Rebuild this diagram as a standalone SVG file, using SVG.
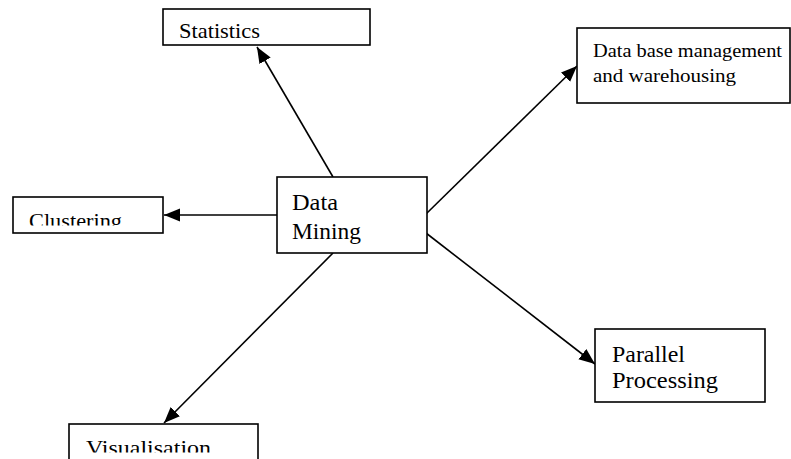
<svg xmlns="http://www.w3.org/2000/svg" width="791" height="459" viewBox="0 0 791 459">
<style>
.box{fill:#fff;stroke:#000;stroke-width:1.6}
.t{font-family:"Liberation Serif","Times New Roman",serif;fill:#000}
.c{stroke:#000;stroke-width:1.6;fill:none;marker-end:url(#ah)}
</style>
<defs>
<marker id="ah" markerUnits="userSpaceOnUse" markerWidth="18" markerHeight="14" refX="16" refY="6.5" orient="auto">
<path d="M0,0 L16,6.5 L0,13 Z" fill="#000"/>
</marker>
<clipPath id="cpS"><rect x="163" y="9" width="207" height="30.5"/></clipPath>
<clipPath id="cpC"><rect x="13" y="197" width="150" height="28.5"/></clipPath>
<clipPath id="cpV"><rect x="69" y="424" width="189" height="28.5"/></clipPath>
</defs>
<rect width="791" height="459" fill="#fff"/>
<g id="connectors">
<line class="c" x1="333" y1="177" x2="257" y2="47"/>
<line class="c" x1="277" y1="215" x2="164" y2="215"/>
<line class="c" x1="426" y1="214" x2="577" y2="66"/>
<line class="c" x1="426" y1="233" x2="595" y2="364"/>
<line class="c" x1="333" y1="253" x2="164" y2="423"/>
</g>
<g id="statistics">
<rect class="box" x="163" y="9" width="207" height="36"/>
<text class="t" x="179" y="38" font-size="22" textLength="81" lengthAdjust="spacingAndGlyphs" clip-path="url(#cpS)">Statistics</text>
</g>
<g id="clustering">
<rect class="box" x="13" y="197" width="150" height="36"/>
<text class="t" x="29" y="227.5" font-size="22" textLength="93" lengthAdjust="spacingAndGlyphs" clip-path="url(#cpC)">Clustering</text>
</g>
<g id="data-mining">
<rect class="box" x="277" y="177" width="150" height="76"/>
<text class="t" x="292" y="210" font-size="23" textLength="46" lengthAdjust="spacingAndGlyphs">Data</text>
<text class="t" x="292" y="239" font-size="23" textLength="69" lengthAdjust="spacingAndGlyphs">Mining</text>
</g>
<g id="database">
<rect class="box" x="577" y="28" width="213" height="75"/>
<text class="t" x="593" y="57" font-size="19" textLength="189" lengthAdjust="spacingAndGlyphs">Data base management</text>
<text class="t" x="593" y="82" font-size="19" textLength="143" lengthAdjust="spacingAndGlyphs">and warehousing</text>
</g>
<g id="parallel">
<rect class="box" x="595" y="329" width="170" height="73"/>
<text class="t" x="612" y="362" font-size="24" textLength="73" lengthAdjust="spacingAndGlyphs">Parallel</text>
<text class="t" x="612" y="388" font-size="24" textLength="106" lengthAdjust="spacingAndGlyphs">Processing</text>
</g>
<g id="visualisation">
<rect class="box" x="69" y="424" width="189" height="45"/>
<text class="t" x="86" y="454.5" font-size="22" textLength="125" lengthAdjust="spacingAndGlyphs" clip-path="url(#cpV)">Visualisation</text>
</g>
</svg>
